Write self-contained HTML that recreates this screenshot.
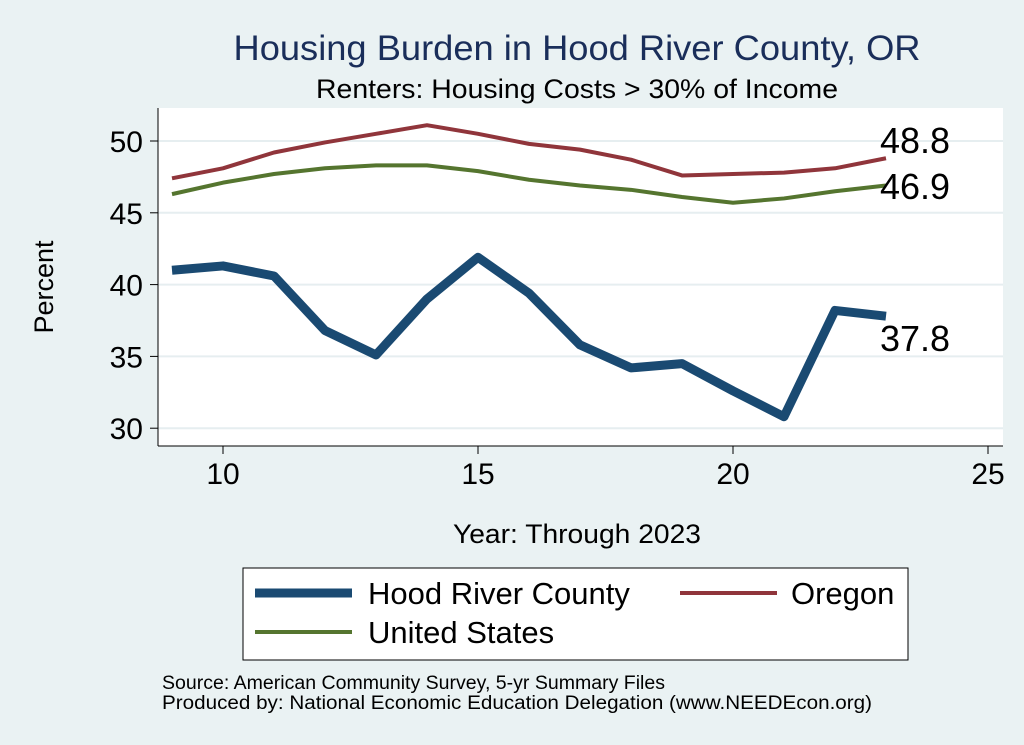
<!DOCTYPE html>
<html><head><meta charset="utf-8"><style>
body{margin:0;background:#fff}
svg{display:block}
text{font-family:"Liberation Sans",sans-serif}
</style></head><body>
<svg id="s" width="1024" height="745" viewBox="0 0 1024 745">
<rect x="0" y="0" width="1024" height="745" fill="#eaf2f3"/>
<rect x="158" y="108" width="845" height="338" fill="#fff"/>
<text x="577" y="60" font-size="35" fill="#1a2e5a" text-anchor="middle" textLength="687" lengthAdjust="spacingAndGlyphs">Housing Burden in Hood River County, OR</text>
<text x="577" y="98" font-size="27" fill="#000" text-anchor="middle" textLength="522" lengthAdjust="spacingAndGlyphs">Renters: Housing Costs &gt; 30% of Income</text>
<g id="grid"></g>
<line x1="158" y1="108" x2="158" y2="446" stroke="#000" stroke-width="1"/>
<line x1="158" y1="446" x2="1003" y2="446" stroke="#000" stroke-width="1"/>
<g id="ser"></g>
<text x="880" y="153" font-size="36">48.8</text>
<text x="880" y="199" font-size="36">46.9</text>
<text x="880" y="351" font-size="36">37.8</text>
<text x="577" y="543" font-size="27" text-anchor="middle" textLength="248" lengthAdjust="spacingAndGlyphs">Year: Through 2023</text>
<text transform="translate(53,287) rotate(-90)" font-size="27" text-anchor="middle">Percent</text>
<rect x="243" y="568" width="665" height="92" fill="#fff" stroke="#000" stroke-width="1"/>
<line x1="255" y1="593" x2="352" y2="593" stroke="#1a4a72" stroke-width="9"/>
<text x="368" y="604" font-size="31">Hood River County</text>
<line x1="680" y1="593" x2="777" y2="593" stroke="#90353b" stroke-width="4"/>
<text x="791" y="604" font-size="31">Oregon</text>
<line x1="255" y1="632" x2="352" y2="632" stroke="#55752f" stroke-width="4"/>
<text x="368" y="643" font-size="31">United States</text>
<text x="162" y="689" font-size="19" textLength="503" lengthAdjust="spacingAndGlyphs">Source: American Community Survey, 5-yr Summary Files</text>
<text x="162" y="709" font-size="19" textLength="710" lengthAdjust="spacingAndGlyphs">Produced by: National Economic Education Delegation (www.NEEDEcon.org)</text>
</svg>
<script>
var NS="http://www.w3.org/2000/svg";
function X(v){return 223+(v-10)*51;}
function Y(v){return 141+(50-v)*14.36;}
function el(p,t,a){var e=document.createElementNS(NS,t);for(var k in a)e.setAttribute(k,a[k]);p.appendChild(e);return e;}
var g=document.getElementById("grid");
[30,35,40,45,50].forEach(function(v){
el(g,"line",{x1:158,x2:1003,y1:Y(v),y2:Y(v),stroke:"#e6eef0","stroke-width":2});
el(g,"line",{x1:150,x2:158,y1:Y(v),y2:Y(v),stroke:"#000"});
var t=el(g,"text",{x:143,y:Y(v)+11,"font-size":30,"text-anchor":"end"});t.textContent=v;});
[10,15,20,25].forEach(function(v){
el(g,"line",{x1:X(v),x2:X(v),y1:446,y2:454,stroke:"#000"});
var t=el(g,"text",{x:X(v),y:484,"font-size":30,"text-anchor":"middle"});t.textContent=v;});
var s=document.getElementById("ser");
function line(d,c,w){var p=d.map(function(v,i){return X(9+i)+","+Y(v)}).join(" ");
el(s,"polyline",{points:p,fill:"none",stroke:c,"stroke-width":w,"stroke-linejoin":"round"});}
line([46.3,47.1,47.7,48.1,48.3,48.3,47.9,47.3,46.9,46.6,46.1,45.7,46.0,46.5,46.9],"#55752f",4);
line([47.4,48.1,49.2,49.9,50.5,51.1,50.5,49.8,49.4,48.7,47.6,47.7,47.8,48.1,48.8],"#90353b",4);
line([41.0,41.3,40.6,36.8,35.1,39.0,41.9,39.4,35.8,34.2,34.5,32.6,30.8,38.2,37.8],"#1a4a72",9);
</script>
</body></html>
